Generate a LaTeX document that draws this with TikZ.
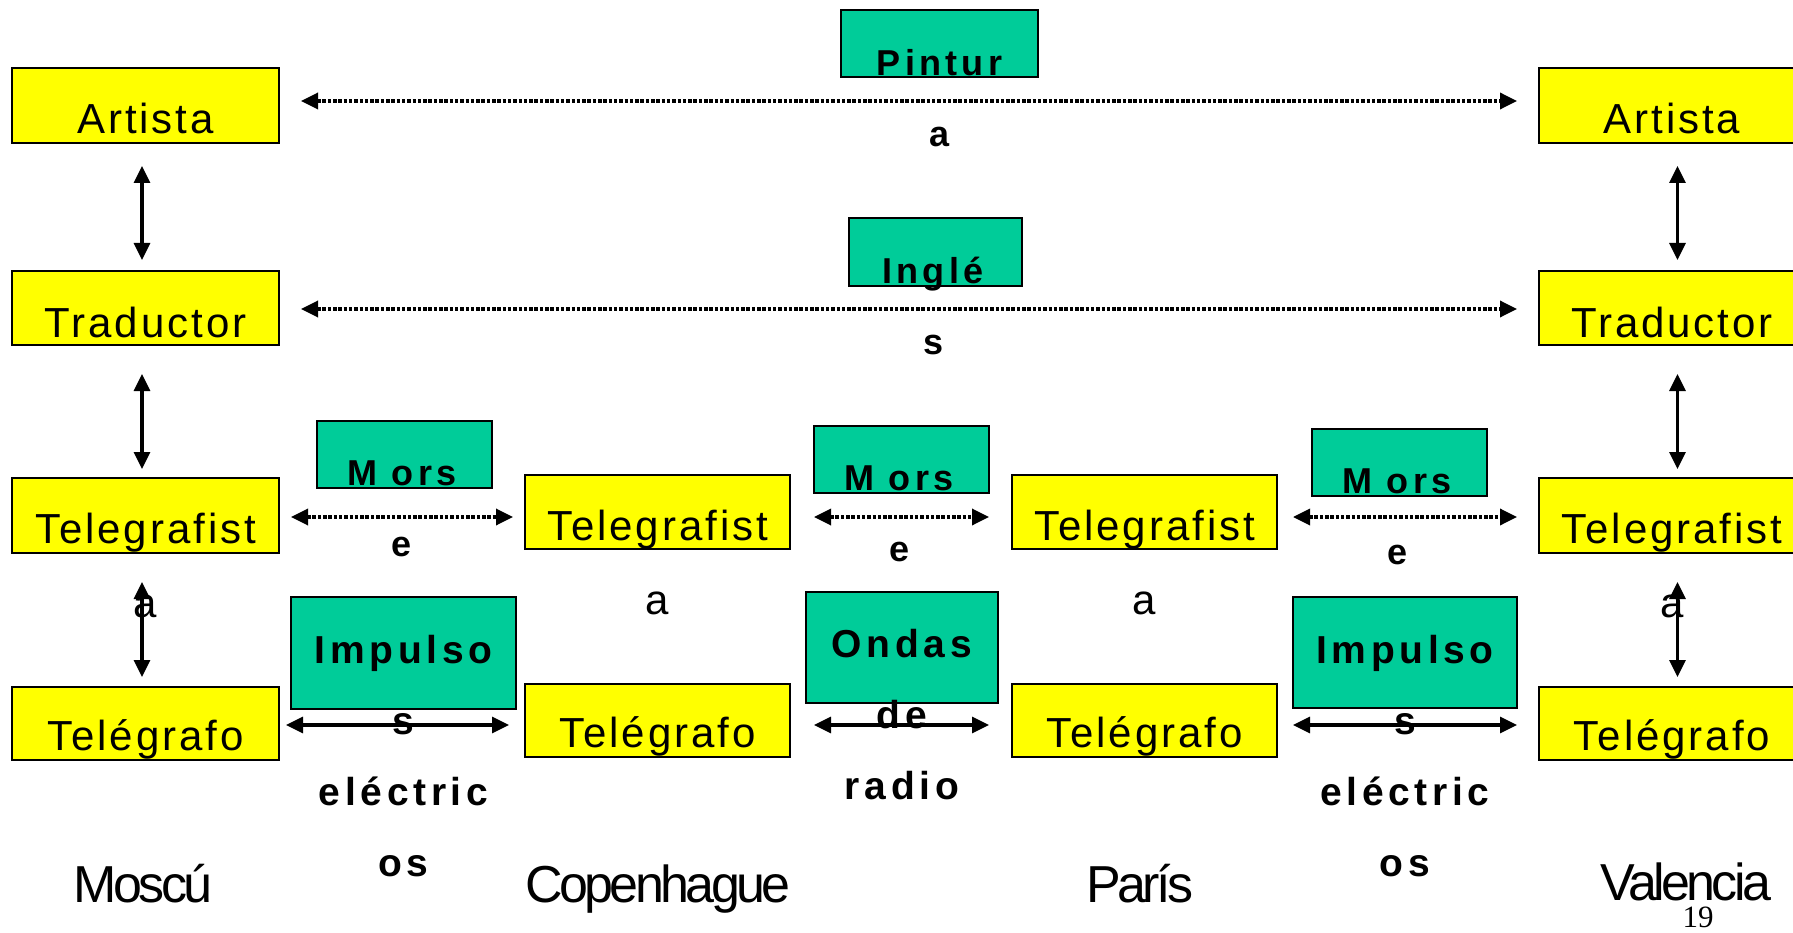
\documentclass[tikz,border=0pt]{standalone}
\usepackage{fontspec}
\setmainfont{Liberation Sans}
\newfontfamily\yfont{Liberation Sans}[LetterSpace=7,Ligatures=CommonOff]
\newfontfamily\gfont{Liberation Sans}[LetterSpace=12,Ligatures=CommonOff]
\newfontfamily\cfont{Liberation Sans}[LetterSpace=-7]
\newfontfamily\nfont{Liberation Serif}
\usetikzlibrary{arrows.meta}
\definecolor{boxyellow}{RGB}{255,255,0}
\definecolor{boxgreen}{RGB}{0,204,153}
\begin{document}
\begin{tikzpicture}[x=1pt,y=-1pt,
  ybox/.style={draw=black, line width=2pt, fill=boxyellow, inner sep=0pt, outer sep=0pt, anchor=north west},
  gbox/.style={draw=black, line width=2pt, fill=boxgreen, inner sep=0pt, outer sep=0pt, anchor=north west},
  ytext/.style={anchor=base, inner sep=0pt, align=center, font=\yfont\fontsize{42}{74}\selectfont},
  gtext/.style={anchor=base, inner sep=0pt, align=center, font=\gfont\bfseries\fontsize{36}{71}\selectfont},
  gtextbig/.style={anchor=base, inner sep=0pt, align=center, font=\gfont\bfseries\fontsize{39}{71}\selectfont},
  ctext/.style={anchor=base, inner sep=0pt, font=\cfont\fontsize{52}{60}\selectfont},
  tip/.tip={Triangle[length=17pt,width=16pt]},
  biarrow/.style={tip-tip, line width=3.2pt},
  dotarrow/.style={tip-tip, line width=3.4pt, dash pattern=on 3.5pt off 1.8pt}
]
\useasboundingbox (0,0) rectangle (1793,933);
\clip (0,0) rectangle (1793,933);

% yellow boxes
\node[ybox, minimum width=267pt, minimum height=75pt] (A1) at (12,68) {};
\node[ybox, minimum width=267pt, minimum height=75pt] (A4) at (1539,68) {};
\node[ybox, minimum width=267pt, minimum height=74pt] (T1) at (12,271) {};
\node[ybox, minimum width=267pt, minimum height=74pt] (T4) at (1539,271) {};
\node[ybox, minimum width=267pt, minimum height=75pt] (G1) at (12,478) {};
\node[ybox, minimum width=265pt, minimum height=74pt] (G2) at (525,475) {};
\node[ybox, minimum width=265pt, minimum height=74pt] (G3) at (1012,475) {};
\node[ybox, minimum width=267pt, minimum height=75pt] (G4) at (1539,478) {};
\node[ybox, minimum width=267pt, minimum height=73pt] (E1) at (12,687) {};
\node[ybox, minimum width=265pt, minimum height=73pt] (E2) at (525,684) {};
\node[ybox, minimum width=265pt, minimum height=73pt] (E3) at (1012,684) {};
\node[ybox, minimum width=267pt, minimum height=73pt] (E4) at (1539,687) {};

% green boxes
\node[gbox, minimum width=197pt, minimum height=67pt] (P) at (841,10) {};
\node[gbox, minimum width=173pt, minimum height=68pt] (I) at (849,218) {};
\node[gbox, minimum width=175pt, minimum height=67pt] (M1) at (317,421) {};
\node[gbox, minimum width=175pt, minimum height=67pt] (M2) at (814,426) {};
\node[gbox, minimum width=175pt, minimum height=67pt] (M3) at (1312,429) {};
\node[gbox, minimum width=225pt, minimum height=112pt] (IM1) at (291,597) {};
\node[gbox, minimum width=192pt, minimum height=111pt] (O) at (806,592) {};
\node[gbox, minimum width=224pt, minimum height=111pt] (IM2) at (1293,597) {};

% vertical arrows
\foreach \c/\dx in {1/-3.5pt, 4/5pt} {
  \draw[biarrow] ([xshift=\dx,yshift=-23pt]A\c.south) -- ([xshift=\dx,yshift=11pt]T\c.north);
  \draw[biarrow] ([xshift=\dx,yshift=-29pt]T\c.south) -- ([xshift=\dx,yshift=9pt]G\c.north);
  \draw[biarrow] ([xshift=\dx,yshift=-29pt]G\c.south) -- ([xshift=\dx,yshift=10pt]E\c.north);
}

% horizontal arrows
\draw[dotarrow, shorten <=22pt, shorten >=22pt] ([yshift=4.5pt]A1.east) -- ([yshift=4.5pt]A4.west);
\draw[dotarrow, shorten <=22pt, shorten >=22pt] ([yshift=-1pt]T1.east) -- ([yshift=-1pt]T4.west);
\draw[dotarrow, shorten <=12pt, shorten >=12pt] ([yshift=-1.5pt]G1.east) -- ([yshift=-5pt]G2.west);
\draw[dotarrow, shorten <=24pt, shorten >=23pt] ([yshift=-5pt]G2.east) -- ([yshift=-5pt]G3.west);
\draw[dotarrow, shorten <=16pt, shorten >=22pt] ([yshift=-5pt]G3.east) -- ([yshift=-1.5pt]G4.west);
\draw[biarrow, shorten <=7pt, shorten >=16pt] ([yshift=-1.5pt]E1.east) -- ([yshift=-4.5pt]E2.west);
\draw[biarrow, shorten <=24pt, shorten >=23pt] ([yshift=-4.5pt]E2.east) -- ([yshift=-4.5pt]E3.west);
\draw[biarrow, shorten <=16pt, shorten >=22pt] ([yshift=-4.5pt]E3.east) -- ([yshift=-1.5pt]E4.west);

% yellow texts (anchor = baseline of the last line)
\node[ytext] (A1t) at (145.5,134) {Artista};
\node[ytext] (A4t) at (1672,134) {Artista};
\node[ytext] (T1t) at (145.5,337) {Traductor};
\node[ytext] (T4t) at (1672,337) {Traductor};
\node[ytext] (G1t) at (145.5,617) {Telegrafist\\a};
\node[ytext] (G2t) at (657.5,614) {Telegrafist\\a};
\node[ytext] (G3t) at (1144.5,614) {Telegrafist\\a};
\node[ytext] (G4t) at (1672,617) {Telegrafist\\a};
\node[ytext] (E1t) at (145.5,750) {Telégrafo};
\node[ytext] (E2t) at (657.5,747) {Telégrafo};
\node[ytext] (E3t) at (1144.5,747) {Telégrafo};
\node[ytext] (E4t) at (1672,750) {Telégrafo};

% green texts (anchor = baseline of the last line)
\node[gtext] (Pt) at (939.5,147) {Pintur\\a};
\node[gtext] (It) at (933,354) {Inglé\\s};
\node[gtext] (M1t) at (402,556) {M ors\\e};
\node[gtext] (M2t) at (899,561) {M ors\\e};
\node[gtext] (M3t) at (1397,564) {M ors\\e};
\node[gtextbig] (IM1t) at (403.5,876) {Impulso\\s\\eléctric\\os};
\node[gtextbig] (Ot) at (902,799) {Ondas\\de\\radio};
\node[gtextbig] (IM2t) at (1405,876) {Impulso\\s\\eléctric\\os};

% city names
\node[ctext] (c1) at (143,902) {Moscú};
\node[ctext] (c2) at (658,902) {Copenhague};
\node[ctext] (c3) at (1140,902) {París};
\node[ctext] (c4) at (1686,900) {Valencia};
\node[anchor=base, inner sep=0pt, font=\nfont\fontsize{31}{36}\selectfont] (pg) at (1698,927) {19};
\end{tikzpicture}
\end{document}
